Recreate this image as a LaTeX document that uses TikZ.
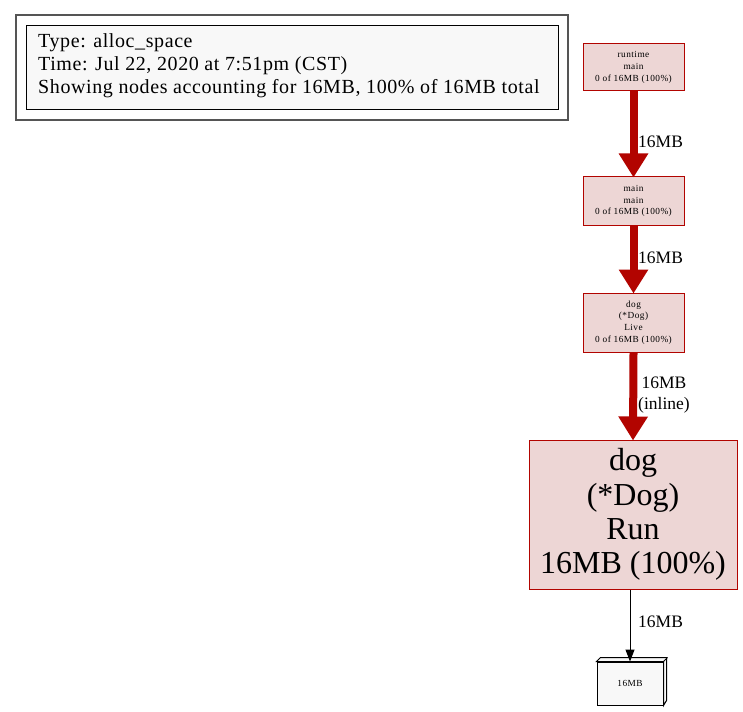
\documentclass[tikz,border=0pt]{standalone}
\usepackage{fontspec}
\setmainfont{Liberation Serif}
\newfontfamily\spacedserif[LetterSpace=5]{Liberation Serif}
\newfontfamily\legserif[LetterSpace=3]{Liberation Serif}
\usetikzlibrary{arrows.meta}
\definecolor{nodefill}{HTML}{EDD6D5}
\definecolor{nodeline}{HTML}{B20400}
\definecolor{legfill}{HTML}{F8F8F8}
\definecolor{outergray}{HTML}{555555}
\tikzset{
  smallnode/.style={draw=nodeline, fill=nodefill, line width=1pt, minimum width=101pt, inner sep=0pt, align=center, font=\spacedserif\fontsize{9.3}{11.8}\selectfont},
  bignode/.style={draw=nodeline, fill=nodefill, line width=1pt, minimum width=208pt, minimum height=149pt, inner sep=0pt, align=center, font=\fontsize{32}{34.3}\selectfont},
  hotedge/.style={draw=nodeline, line width=8pt, -{Triangle[length=24pt,width=28pt]}, shorten >=-1pt},
  thinedge/.style={draw=black, line width=1pt, -{Triangle[length=12pt,width=9pt]}},
  elabel/.style={anchor=west, align=left, inner sep=0pt, font=\fontsize{17.5}{21}\selectfont}
}
\begin{document}
\begin{tikzpicture}[x=1pt,y=-1pt]
\useasboundingbox (0,0) rectangle (743,711);
\fill[white] (0,0) rectangle (743,711);
% legend
\draw[outergray, line width=1.2pt] (16,15) rectangle (568,120);
\node[draw=black, fill=legfill, line width=1pt, minimum width=532pt, minimum height=84pt, inner sep=0pt] (legend) at (292,68) {};
\node[anchor=north west, inner sep=0pt, align=left, font=\legserif\fontsize{20}{23.3}\selectfont] (legtext) at (38,33)
 {Type: alloc\_space\\Time: Jul 22, 2020 at 7:51pm (CST)\\Showing nodes accounting for 16MB, 100\% of 16MB total};
% nodes
\node[smallnode, minimum height=47pt] (n1) at (633.5,67.5) {runtime\\main\\0 of 16MB (100\%)};
\node[smallnode, minimum height=48pt] (n2) at (633.5,201) {main\\main\\0 of 16MB (100\%)};
\node[smallnode, minimum height=59pt] (n3) at (633.5,322.5) {dog\\(*Dog)\\Live\\0 of 16MB (100\%)};
\node[bignode] (n4) at (633,514.5) {dog\\(*Dog)\\Run\\16MB (100\%)};
\node[draw=black, fill=legfill, line width=1pt, minimum width=66pt, minimum height=43pt, inner sep=0pt, font=\spacedserif\fontsize{9.3}{11}\selectfont] (n5) at (630,683.5) {16MB};
\draw[black, fill=legfill, line width=1pt, line join=miter] (n5.north west) -- ++(4,-4) -- ++(66,0) -- ++(0,43) -- (n5.south east) -- (n5.north east) -- cycle;
\draw[black, line width=1pt] (n5.north east) -- ++(4,-4);
% edges
\draw[hotedge] (n1.south) -- (n2.north);
\draw[hotedge] (n2.south) -- (n3.north);
\draw[hotedge] (n3.south) -- (n4.north);
\draw[thinedge] (n4.south -| n5.north) -- (n5.north);
% labels
\node[elabel] (l1) at (638,142) {16MB};
\node[elabel] (l2) at (638,258) {16MB};
\node[elabel, align=center, anchor=west] (l3) at (638,395.5) {16MB\\(inline)};
\node[elabel] (l4) at (638,622) {16MB};
\end{tikzpicture}
\end{document}
